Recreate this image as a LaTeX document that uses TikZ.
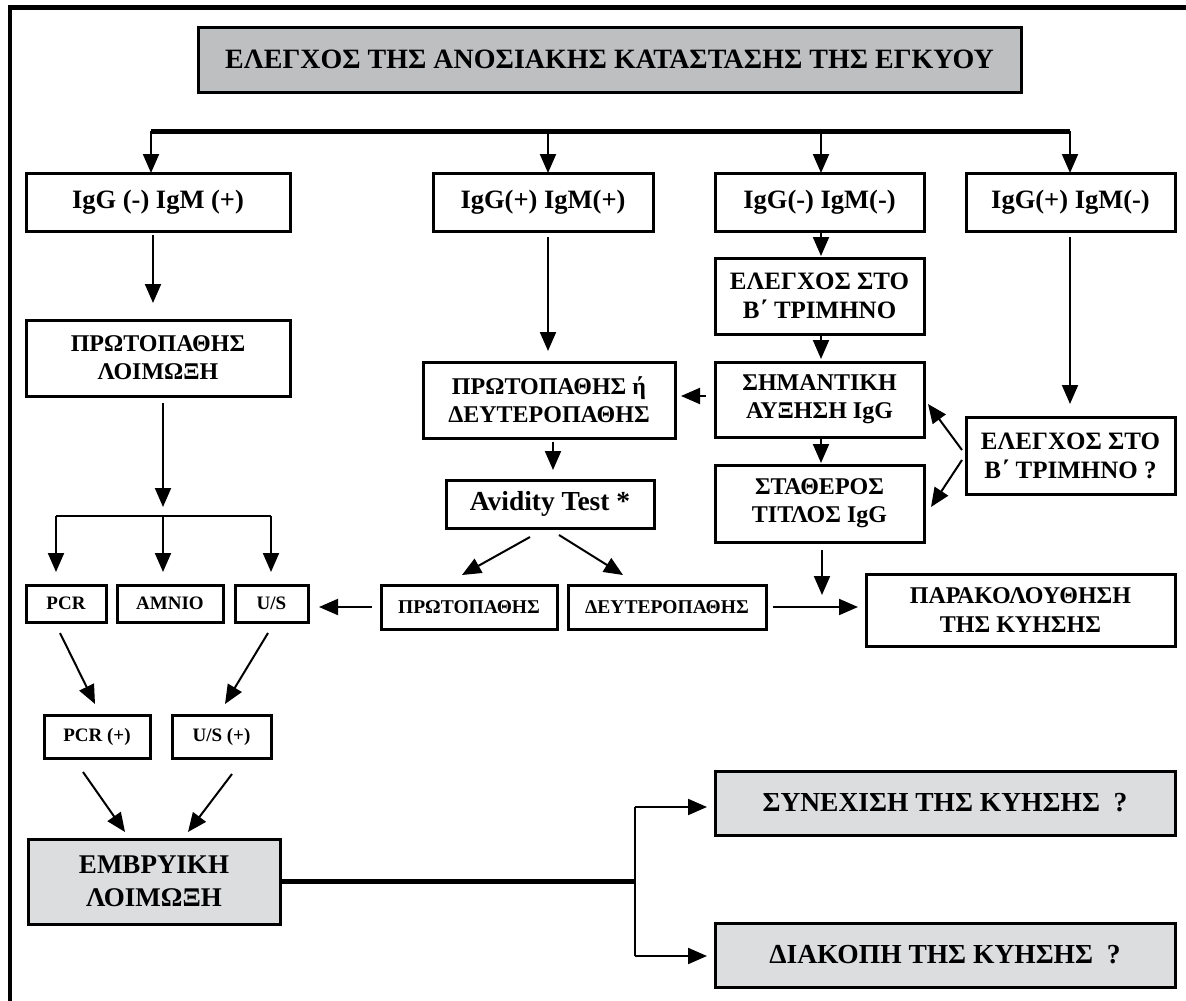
\documentclass[tikz,border=0pt]{standalone}
\usepackage{fontspec}
\setmainfont{Liberation Serif}
\usetikzlibrary{arrows.meta,calc}
\definecolor{titlegray}{HTML}{BEBFC1}
\definecolor{boxgray}{HTML}{DCDDDF}
\begin{document}
\begin{tikzpicture}[x=1pt,y=-1pt,
  box/.style={draw, line width=3pt, inner sep=0pt, outer sep=0pt, align=center, fill=white},
  arr/.style={line width=2pt, -{Triangle[length=19pt,width=16pt]}},
  fT/.style={font=\bfseries\fontsize{28}{32}\selectfont},
  fI/.style={font=\bfseries\fontsize{26.5}{30}\selectfont},
  fM/.style={font=\bfseries\fontsize{24}{28}\selectfont},
  fM2/.style={font=\bfseries\fontsize{25}{29}\selectfont},
  fA/.style={font=\bfseries\fontsize{27.5}{30}\selectfont},
  fS/.style={font=\bfseries\fontsize{19}{22}\selectfont},
  fS2/.style={font=\bfseries\fontsize{19.5}{22}\selectfont},
  fS3/.style={font=\bfseries\fontsize{19}{22}\selectfont},
  fE/.style={font=\bfseries\fontsize{27}{33}\selectfont},
  fB/.style={font=\bfseries\fontsize{27.5}{30}\selectfont},
  fP/.style={font=\bfseries\fontsize{24}{29}\selectfont}
]
\useasboundingbox (0,0) rectangle (1186,1001);
% frame
\draw[line width=5pt] (8,7.5) -- (1186,7.5);
\draw[line width=4pt] (10,5) -- (10,1001);

% nodes
\node[box,fill=titlegray,fT,minimum width=823pt,minimum height=65pt] (title) at (609.5,59.5) {ΕΛΕΓΧΟΣ ΤΗΣ ΑΝΟΣΙΑΚΗΣ ΚΑΤΑΣΤΑΣΗΣ ΤΗΣ ΕΓΚΥΟΥ};

\node[box,fI,minimum width=264pt,minimum height=58pt] (b1) at (158,202) {IgG (-) IgM (+)};
\node[box,fI,minimum width=220pt,minimum height=58pt] (b2) at (543,202) {IgG(+) IgM(+)};
\node[box,fI,minimum width=209pt,minimum height=58pt] (b3) at (819.5,202) {IgG(-) IgM(-)};
\node[box,fI,minimum width=209pt,minimum height=58pt] (b4) at (1070.5,202) {IgG(+) IgM(-)};

\node[box,fM,minimum width=264pt,minimum height=76pt] (prim) at (158,358) {ΠΡΩΤΟΠΑΘΗΣ\\ΛΟΙΜΩΞΗ};
\node[box,fM,minimum width=252pt,minimum height=76pt] (pord) at (549,400) {ΠΡΩΤΟΠΑΘΗΣ ή\\ΔΕΥΤΕΡΟΠΑΘΗΣ};
\node[box,fA,minimum width=208pt,minimum height=48pt] (avid) at (550,504) {Avidity Test *};
\node[box,fM2,minimum width=209pt,minimum height=76pt] (e2) at (819.5,296) {ΕΛΕΓΧΟΣ ΣΤΟ\\Β΄ ΤΡΙΜΗΝΟ};
\node[box,fM,minimum width=209pt,minimum height=75pt] (sim) at (819.5,399.5) {ΣΗΜΑΝΤΙΚΗ\\ΑΥΞΗΣΗ IgG};
\node[box,fM,minimum width=209pt,minimum height=77pt] (stat) at (819.5,503.5) {ΣΤΑΘΕΡΟΣ\\ΤΙΤΛΟΣ IgG};
\node[box,fM2,minimum width=209pt,minimum height=77pt] (e4) at (1070.5,455.5) {ΕΛΕΓΧΟΣ ΣΤΟ\\Β΄ ΤΡΙΜΗΝΟ ?};

\node[box,fS,minimum width=80pt,minimum height=37pt] (pcr) at (66,603.5) {PCR};
\node[box,fS,minimum width=106pt,minimum height=37pt] (amnio) at (170,603.5) {AMNIO};
\node[box,fS,minimum width=73pt,minimum height=37pt] (us) at (271.5,603.5) {U/S};
\node[box,fS2,minimum width=176pt,minimum height=44pt] (prot) at (469,607) {ΠΡΩΤΟΠΑΘΗΣ};
\node[box,fS2,minimum width=198pt,minimum height=44pt] (deut) at (667,607) {ΔΕΥΤΕΡΟΠΑΘΗΣ};
\node[box,fP,minimum width=309pt,minimum height=72pt] (parak) at (1020.5,610) {ΠΑΡΑΚΟΛΟΥΘΗΣΗ\\ΤΗΣ ΚΥΗΣΗΣ};

\node[box,fS3,minimum width=106pt,minimum height=43pt] (pcrp) at (97,736.5) {PCR (+)};
\node[box,fS3,minimum width=99pt,minimum height=43pt] (usp) at (221.5,736.5) {U/S (+)};

\node[box,fill=boxgray,fE,minimum width=252pt,minimum height=85pt] (emb) at (154,881.5) {ΕΜΒΡΥΙΚΗ\\ΛΟΙΜΩΞΗ};
\node[box,fill=boxgray,fB,minimum width=460pt,minimum height=64pt] (syn) at (945,803) {ΣΥΝΕΧΙΣΗ ΤΗΣ ΚΥΗΣΗΣ\ \ ?};
\node[box,fill=boxgray,fB,minimum width=460pt,minimum height=64pt] (diak) at (945,955) {ΔΙΑΚΟΠΗ ΤΗΣ ΚΥΗΣΗΣ\ \ ?};

% bus
\coordinate (bus1) at (151,131);
\coordinate (bus2) at (548,131);
\coordinate (bus3) at (821,131);
\coordinate (bus4) at (1070,131);
\draw[line width=5pt] (bus1) -- (bus4);
\draw[arr] (bus1) -- (bus1 |- b1.north);
\draw[arr] (bus2) -- (bus2 |- b2.north);
\draw[arr] (bus3) -- (bus3 |- b3.north);
\draw[arr] (bus4) -- (bus4 |- b4.north);

% left column
\draw[arr] ($(b1.south)+(-5,4)$) -- ($(prim.north)+(-5,-17)$);
\coordinate (brL) at (56,516);
\coordinate (brM) at (163,516);
\coordinate (brR) at (271,516);
\draw[arr] ($(prim.south)+(5,7)$) -- ($(brM)+(0,-9)$);
\draw[line width=2.5pt] (brL) -- (brR);
\draw[arr] (brL) -- ($(brL |- pcr.north)+(0,-13)$);
\draw[arr] (brM) -- ($(brM |- amnio.north)+(0,-13)$);
\draw[arr] (brR) -- ($(brR |- us.north)+(0,-13)$);
\draw[arr] ($(prot.west)+(-9,0)$) -- ($(prot.west -| us.east)+(11,0)$);

% middle column
\draw[arr] ($(b2.south)+(5,6)$) -- ($(pord.north)+(-1,-11)$);
\draw[arr] ($(pord.south)+(4,4)$) -- ($(avid.north)+(3,-10)$);
\draw[arr] ($(avid.south)+(-20,9)$) -- ($(prot.north)+(-7,-10)$);
\draw[arr] ($(avid.south)+(9,7)$) -- ($(deut.north)+(-44,-10)$);

% third column
\draw[arr] ($(b3.south)+(1.5,1)$) -- ($(e2.north)+(1.5,-2)$);
\draw[arr] ($(e2.south)+(1.5,2)$) -- ($(sim.north)+(1.5,-3)$);
\draw[arr] ($(sim.south)+(1.5,2)$) -- ($(stat.north)+(1.5,-2)$);
\draw[arr] ($(sim.west)+(-9,-3.5)$) -- ($(sim.west -| pord.east)+(6,-3.5)$);
\draw[arr] ($(stat.south)+(2.5,8)$) -- ($(stat.south |- deut.east)+(2.5,-12)$);
\draw[arr] ($(deut.east)+(7,0)$) -- ($(deut.east -| parak.west)+(-8,0)$);

% fourth column
\draw[arr] ($(b4.south)+(-0.5,6)$) -- ($(e4.north)+(-0.5,-13)$);
\draw[arr] ($(e4.west)+(-4,-5.5)$) -- ($(sim.east)+(4,4.5)$);
\draw[arr] ($(e4.west)+(-4,4.5)$) -- ($(stat.east)+(7,3.5)$);

% bottom left
\draw[arr] ($(pcr.south)+(-6,11)$) -- ($(pcrp.north)+(-2,-11)$);
\draw[arr] ($(us.south)+(-3.5,11)$) -- ($(usp.north)+(3.5,-11)$);
\draw[arr] ($(pcrp.south)+(-14,14)$) -- ($(emb.north)+(-29,-7)$);
\draw[arr] ($(usp.south)+(10.5,16)$) -- ($(emb.north)+(34,-7)$);

% outcome split
\coordinate (split) at (635,883);
\coordinate (sTop) at (635,807);
\coordinate (sBot) at (635,956);
\draw[line width=4.5pt] (emb.east) -- (emb.east -| split);
\draw[line width=2.5pt] (sTop) -- (sBot);
\draw[arr] (sTop) -- ($(sTop -| syn.west)+(-8,0)$);
\draw[arr] (sBot) -- ($(sBot -| diak.west)+(-8,0)$);
\end{tikzpicture}
\end{document}
